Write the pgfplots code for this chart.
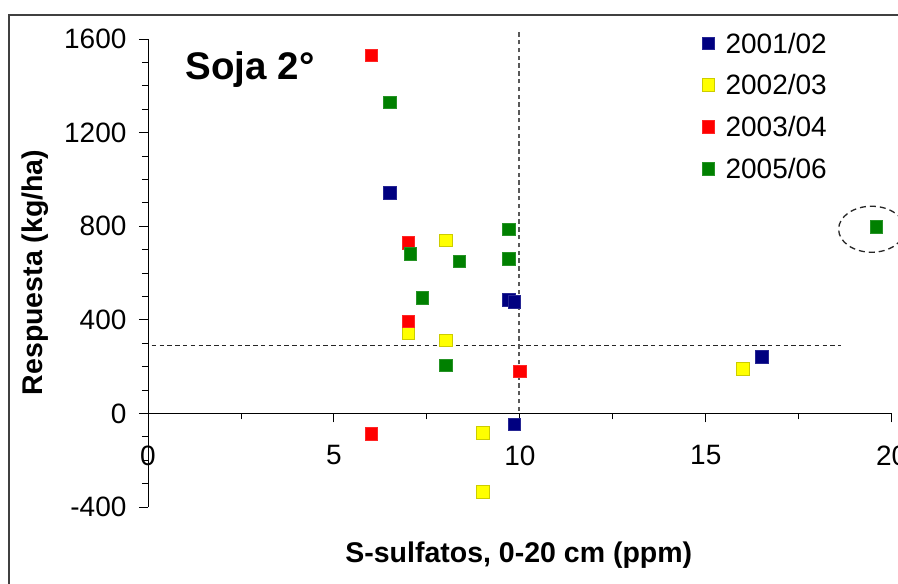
\documentclass[border=0pt]{standalone}
\usepackage{pgfplots}
\pgfplotsset{compat=1.18}
\usepackage{fontspec}
\setmainfont{Liberation Sans}
\definecolor{cnavy}{RGB}{0,0,128}
\definecolor{cyel}{RGB}{255,255,0}
\definecolor{cred}{RGB}{255,0,0}
\definecolor{cgreen}{RGB}{0,128,0}
\begin{document}
\begin{tikzpicture}[x=1pt,y=1pt]
\useasboundingbox (-148,-77) rectangle (750,507);
\clip (-148,-77) rectangle (750,507);
\fill[white] (-148,-77) rectangle (750,507);
\draw[line width=2.2pt, black!75] (-139,-200) -- (-139,492) -- (1000,492);
\begin{axis}[
  at={(0,0)}, anchor=south west,
  scale only axis, width=743.7pt, height=468pt,
  xmin=0, xmax=20, ymin=-400, ymax=1600,
  axis x line=middle, axis y line=left,
  axis line style={-, line width=0.9pt},
  hide obscured x ticks=false, hide obscured y ticks=false,
  xtick={0,5,10,15,20}, minor x tick num=1,
  ytick={-400,0,400,800,1200,1600}, minor y tick num=3,
  tick align=outside,
  major tick length=9pt, minor tick length=6pt,
  every tick/.style={line width=0.9pt, black},
  minor tick style={line width=0.9pt, black},
  /pgf/number format/assume math mode=true,
  /pgf/number format/1000 sep={},
  ticklabel style={font=\fontsize{28}{32}\selectfont},
  xticklabel style={anchor=center, yshift=-33pt},
  yticklabel style={anchor=east, xshift=-9pt},
  xlabel={S-sulfatos, 0-20 cm (ppm)},
  ylabel={Respuesta (kg/ha)},
  label style={font=\bfseries\fontsize{28.5}{32}\selectfont},
  xlabel style={at={(axis description cs:0.4986,-0.1026)}, anchor=center},
  ylabel style={at={(axis description cs:-0.1520,0.501)}, anchor=center},
  clip=false,
  legend style={draw=none, fill=none, at={(axis description cs:0.7449,1.0130)}, anchor=north west,
    font=\fontsize{28}{32}\selectfont, row sep=20pt, column sep=11pt,
    inner sep=0pt, outer sep=0pt, nodes={inner sep=0pt, outer sep=0pt}, cells={anchor=base west}},
  legend image code/.code={\draw[#1] plot coordinates {(6.3pt,10pt)};},
  mark size=6.3pt,
]
\addplot[only marks, mark=square*, mark options={fill=cnavy, draw=cnavy!85!white, line width=0.5pt}] coordinates {
(6.5,944) (9.7,485) (9.85,477) (9.85,-46) (16.5,242)};
\addlegendentry{2001/02}
\addplot[only marks, mark=square*, mark options={fill=cyel, draw=cyel!80!black, line width=0.5pt}] coordinates {
(8,740) (7,342) (8,312) (9,-83) (9,-335) (16,190)};
\addlegendentry{2002/03}
\addplot[only marks, mark=square*, mark options={fill=cred, draw=cred!85!white, line width=0.5pt}] coordinates {
(6,1531) (7,730) (7,394) (10,180) (6,-87)};
\addlegendentry{2003/04}
\addplot[only marks, mark=square*, mark options={fill=cgreen, draw=cgreen!85!white, line width=0.5pt}] coordinates {
(6.5,1329) (9.7,787) (7.05,682) (8.37,650) (9.7,660) (7.38,495) (8,205) (19.58,798)};
\addlegendentry{2005/06}
\addplot[forget plot, no marks, black!85, line width=1.1pt, dash pattern=on 4.5pt off 3.3pt] coordinates {(0.1,292) (18.63,292)};
\addplot[forget plot, no marks, black!65, line width=1.8pt, dash pattern=on 4.5pt off 3.3pt] coordinates {(9.97,10) (9.97,1632)};
\draw[black!85, line width=1.3pt, dash pattern=on 6pt off 4pt] (axis cs:19.46,787) ellipse [x radius=33pt, y radius=23pt];
\node[anchor=base west, font=\bfseries\fontsize{38.5}{44}\selectfont, inner sep=0pt] at (axis description cs:0.0504,0.9124) {Soja 2°};
\end{axis}
\end{tikzpicture}
\end{document}
